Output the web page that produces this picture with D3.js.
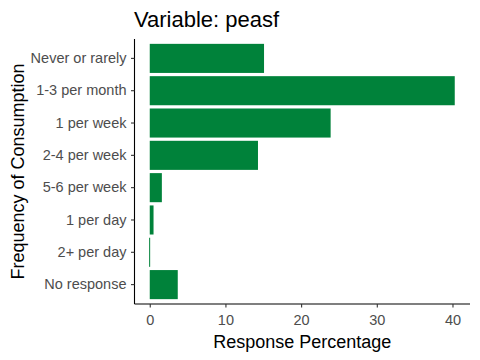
<!DOCTYPE html>
<html><head><meta charset="utf-8">
<script src="https://cdn.jsdelivr.net/npm/d3@7"></script>
<style>body{margin:0;background:#fff}svg{display:block}text{font-family:"Liberation Sans",Arial,sans-serif}</style>
</head><body>
<script>
const categories = ["Never or rarely","1-3 per month","1 per week","2-4 per week","5-6 per week","1 per day","2+ per day","No response"];
const values = [15.1, 40.3, 23.9, 14.3, 1.6, 0.5, 0.1, 3.7];
const xTicks = [0, 10, 20, 30, 40];
const title = "Variable: peasf";
const xLabel = "Response Percentage";
const yLabel = "Frequency of Consumption";

const W = 480, H = 360;
const mLeft = 134.5, mRight = 470, mTop = 39, mBottom = 304;
const svg = d3.select("body").append("svg").attr("width", W).attr("height", H);

const x = d3.scaleLinear().domain([-2.015, 42.315]).range([mLeft, mRight]);
const y = d3.scaleBand().domain(categories).range([mTop, mBottom]).paddingInner(0.1).paddingOuter(0.15);

svg.selectAll("rect.bar").data(values).enter().append("rect")
  .attr("class","bar")
  .attr("x", d => Math.abs(x(d)-x(0)) < 1 ? x(0) - 0.6 : x(Math.min(0,d)))
  .attr("width", d => Math.max(1, Math.abs(x(d)-x(0))))
  .attr("y", (d,i) => y(categories[i]))
  .attr("height", y.bandwidth())
  .attr("fill", "#00823A");

const gx = svg.append("g").attr("transform", `translate(0,${mBottom})`)
  .call(d3.axisBottom(x).tickValues(xTicks).tickSize(3.5).tickPadding(7.5).tickSizeOuter(0));
const gy = svg.append("g").attr("transform", `translate(${mLeft},0)`)
  .call(d3.axisLeft(y).tickSize(3.5).tickPadding(4.5).tickSizeOuter(0));
[gx, gy].forEach(g => {
  g.attr("font-family", null).attr("font-size", null);
  g.select(".domain").attr("stroke","#000").attr("stroke-width",1.1);
  g.selectAll(".tick line").attr("stroke","#333").attr("stroke-width",1.1);
  g.selectAll(".tick text").attr("fill","#4d4d4d").attr("font-size", 14.5);
});
gx.select(".domain").attr("d", `M${mLeft},0H${mRight}`);
gy.select(".domain").attr("d", `M0,${mTop}V${mBottom}`);

svg.append("text").attr("x", 134).attr("y", 26.5).attr("font-size", 22).attr("fill","#000").text(title);
svg.append("text").attr("x", (mLeft+mRight)/2).attr("y", 348).attr("text-anchor","middle").attr("font-size",18).attr("fill","#000").text(xLabel);
svg.append("text").attr("transform", `translate(23.5,${(mTop+mBottom)/2}) rotate(-90)`).attr("text-anchor","middle").attr("font-size",18).attr("fill","#000").text(yLabel);
</script>
</body></html>
